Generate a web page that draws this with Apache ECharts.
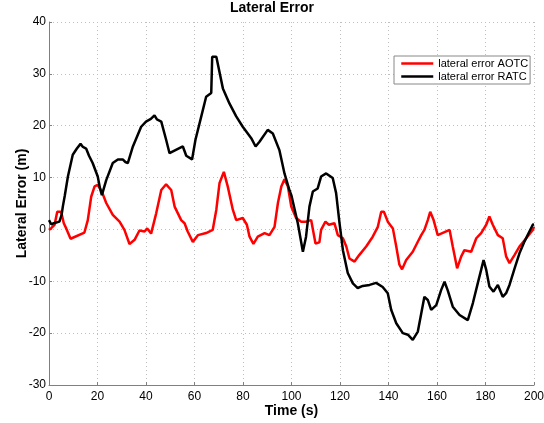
<!DOCTYPE html>
<html>
<head>
<meta charset="utf-8">
<script src="https://cdn.jsdelivr.net/npm/echarts@6/dist/echarts.min.js"></script>
<style>
  html, body { margin: 0; padding: 0; background: #fff; }
  #chart { width: 544px; height: 423px; }
</style>
</head>
<body>
<div id="chart"></div>
<script>
// Lateral error over time for the two controllers
const chartTitle = 'Lateral Error';
const seriesNames = ['lateral error AOTC', 'lateral error RATC'];

// AOTC: time (s) and lateral error (m)
const aotcTime = [0, 1, 2.3, 3.4, 5, 6.1, 7.1, 8.9, 14.6, 16, 17.4, 18.8, 20.1, 21.8, 23.6, 26.3, 29.1, 31.1, 33.2, 35.3, 37.3, 39.4, 40.5, 42.1, 44.2, 46.3, 48.3, 50.4, 51.8, 54.5, 55.9, 57.2, 59.3, 61.4, 64.8, 67.5, 69, 70.3, 72.1, 73.7, 75.8, 77.2, 79.9, 81.6, 82.7, 84.3, 86.1, 88.9, 90.9, 93, 94.4, 95.8, 97.1, 98.5, 99.9, 101.9, 104, 106, 108.1, 109.9, 111.5, 112.2, 114, 115.4, 117.7, 119.1, 121.2, 122.6, 123.9, 126, 128, 130.8, 133.5, 135.6, 137, 138.1, 139.7, 141.8, 143.2, 144.5, 145.6, 147.3, 150, 152.5, 153.5, 154.8, 156.2, 157.2, 158.6, 160.3, 165.2, 166.5, 168.3, 170, 171.3, 174.1, 176.2, 178.2, 180.3, 181.6, 183, 185.1, 187.1, 188.5, 189.9, 192, 194, 196.8, 199.5, 200];
const aotcError = [-0.1, 0.3, 0.9, 3.4, 3.4, 1.2, 0.2, -1.8, -0.6, 1.8, 6.3, 8.3, 8.6, 7.3, 5.1, 2.8, 1.5, -0.1, -2.8, -2, -0.2, -0.4, 0.2, -0.8, 3.1, 7.6, 8.7, 7.6, 4.4, 1.8, 1.2, -0.4, -2.4, -1.1, -0.7, -0.1, 3.8, 8.9, 11.1, 8.3, 3.8, 1.8, 2.2, 0.9, -1.4, -2.8, -1.4, -0.7, -1.1, 0.5, 5.1, 8.3, 9.7, 8.3, 4.4, 2.2, 1.5, 1.5, 1.8, -2.7, -2.5, -0.1, 1.5, 0.9, 1.2, -1.1, -1.7, -3.3, -5.6, -6.2, -4.9, -3.3, -1.4, 0.5, 3.4, 3.4, 1.5, 0.2, -3.3, -6.8, -7.7, -5.9, -4.3, -2, -1.1, -0.1, 1.8, 3.4, 1.8, -1.1, -0.1, -3.3, -7.5, -5.2, -4, -4.3, -1.7, -0.7, 0.9, 2.5, 0.9, -1.1, -1.7, -5.2, -6.5, -4.9, -3.3, -1.7, -0.1, 0.5];

// RATC: time (s) and lateral error (m)
const ratcTime = [0, 0.9, 2, 4.3, 5.2, 5.7, 6.5, 7.8, 9.8, 11.5, 13, 14, 15.3, 16.5, 18, 20.1, 21, 21.8, 23.6, 26.3, 28.4, 30.4, 31.5, 32.5, 34.6, 38, 40, 42, 43.5, 44.5, 46.3, 48.3, 49.7, 55.2, 56.6, 59, 60.4, 62.8, 64.8, 66.9, 67.3, 69, 71.7, 74.4, 77.2, 79.9, 83.4, 85.2, 86.8, 90.2, 92.3, 95, 97.1, 99.2, 100, 102.6, 104.7, 106, 107.4, 108.8, 110.8, 112.2, 114.3, 117, 118.4, 119.8, 121.2, 123.2, 125.3, 127.3, 129.4, 132.2, 134.9, 137.6, 139.7, 141.1, 143.2, 145.9, 148, 150, 152.1, 153.5, 154.8, 156.2, 157.6, 159.7, 161.7, 163.1, 164.4, 166.5, 169.3, 172.7, 174.8, 176.8, 178.2, 179.2, 180.3, 181.6, 183.3, 185.1, 187.1, 188.5, 189.9, 192, 194, 196.1, 199.5, 200];
const ratcError = [1.8, 1.0, 1.2, 1.5, 2.8, 4.4, 6.5, 10.2, 14.4, 15.6, 16.5, 15.9, 15.6, 14.2, 12.8, 10.2, 8, 6.6, 9.5, 12.8, 13.5, 13.5, 13.0, 12.8, 16, 19.8, 20.8, 21.3, 22, 21.2, 20.8, 17.3, 14.7, 16, 14.2, 13.5, 17.3, 21.8, 25.6, 26.3, 33.3, 33.3, 27.2, 24.3, 21.8, 19.8, 17.6, 16, 16.9, 19.2, 18.5, 15.3, 10.8, 7.5, 6.5, 1.2, -4.3, -1.4, 4.4, 7.3, 7.9, 10.2, 10.8, 9.9, 7, 1.2, -4, -8.4, -10.4, -11.3, -10.9, -10.7, -10.3, -11.1, -12.3, -15.5, -18.1, -20, -20.3, -21.3, -19.7, -16.2, -13, -13.6, -15.5, -14.6, -11.7, -10.1, -11.7, -14.9, -16.5, -17.5, -14.2, -10.4, -7.8, -5.9, -7.8, -11, -12, -10.7, -13, -12.3, -10.7, -7.5, -4.6, -2.3, 0.9, 1];

const pairs = (xs, ys) => xs.map((x, i) => [x, ys[i]]);

const font = '"Liberation Sans", Arial, Helvetica, sans-serif';
const chart = echarts.init(document.getElementById('chart'), null, { renderer: 'canvas' });

chart.setOption({
  backgroundColor: '#ffffff',
  animation: false,
  title: {
    text: chartTitle,
    left: 'center',
    top: 1,
    padding: [0, 5],
    textStyle: { fontFamily: font, fontSize: 14, fontWeight: 'bold', color: '#000' }
  },
  legend: {
    orient: 'vertical',
    left: 394,
    top: 56,
    padding: [2, 2, 2, 6],
    itemGap: 2,
    itemWidth: 32,
    itemHeight: 13,
    backgroundColor: '#fff',
    borderColor: '#888',
    borderWidth: 1,
    itemStyle: { opacity: 0 },
    lineStyle: { width: 2.5 },
    textStyle: { fontFamily: font, fontSize: 11, color: '#000' },
    data: seriesNames
  },
  grid: { left: 49, right: 10, top: 22, bottom: 38, containLabel: false, outerBoundsMode: 'none' },
  xAxis: {
    type: 'value',
    min: 0, max: 200, interval: 20,
    name: 'Time (s)',
    nameLocation: 'middle',
    nameGap: 19,
    nameMoveOverlap: false,
    nameTextStyle: { fontFamily: font, fontSize: 14, fontWeight: 'bold', color: '#000' },
    axisLine: { onZero: false, lineStyle: { color: '#808080', width: 1 } },
    axisTick: { inside: true, length: 3, lineStyle: { color: '#808080' } },
    axisLabel: { fontFamily: font, fontSize: 12, color: '#000', margin: 6 },
    splitLine: { show: true, lineStyle: { color: '#bfbfbf', type: [1, 3], width: 1 } }
  },
  yAxis: {
    type: 'value',
    min: -30, max: 40, interval: 10,
    name: 'Lateral Error (m)',
    nameLocation: 'middle',
    nameGap: 20,
    nameMoveOverlap: false,
    nameTextStyle: { fontFamily: font, fontSize: 14, fontWeight: 'bold', color: '#000' },
    axisLine: { show: true, lineStyle: { color: '#808080', width: 1 } },
    axisTick: { show: true, inside: true, length: 3, lineStyle: { color: '#808080' } },
    axisLabel: { fontFamily: font, fontSize: 12, color: '#000', margin: 3 },
    splitLine: { show: true, lineStyle: { color: '#bfbfbf', type: [1, 3], width: 1 } }
  },
  series: [
    {
      name: seriesNames[0],
      type: 'line',
      data: pairs(aotcTime, aotcError),
      showSymbol: false,
      symbol: 'none',
      lineStyle: { color: '#ff0000', width: 2.5 },
      itemStyle: { color: '#ff0000' },
      z: 2
    },
    {
      name: seriesNames[1],
      type: 'line',
      data: pairs(ratcTime, ratcError),
      showSymbol: false,
      symbol: 'none',
      lineStyle: { color: '#000000', width: 2.5 },
      itemStyle: { color: '#000000' },
      z: 3
    }
  ]
});
</script>
</body>
</html>
